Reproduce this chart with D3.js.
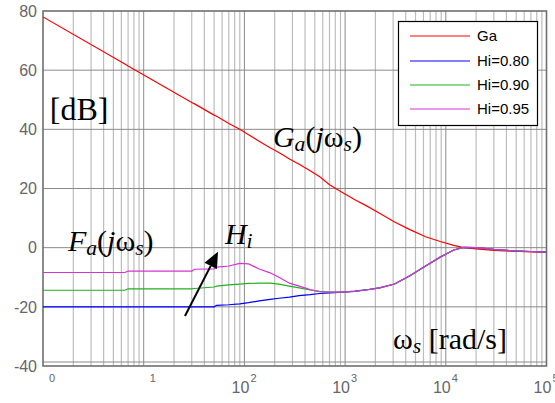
<!DOCTYPE html>
<style>
  body { margin: 0; background: #fff; }
  .tick-lab { font-family: "Liberation Sans", Arial, sans-serif; fill: #666; }
  .note { font-family: "Liberation Serif", "Times New Roman", serif; fill: #000; }
  .legend text { font-family: "Liberation Sans", Arial, sans-serif; font-size: 15px; fill: #000; }
</style>
<body>
<script src="https://d3js.org/d3.v7.min.js"></script>
<script>

// frequency grid, rad/s
var omega = [1, 6.5, 7, 30, 32, 50, 53, 70, 90, 110, 140, 180, 220, 280, 350, 450, 560,
             700, 950, 1250, 1600, 2200, 3100, 4400, 6300, 8800, 12000, 15000, 20000,
             30000, 47000, 70000, 100000];

// magnitudes in dB
var ga   = [78, 62.1, 61.4, 49.1, 48.6, 44.8, 44.4, 42.0, 40.0, 38.2, 36.0, 33.8, 32.2,
            30.0, 28.2, 26.0, 24.0, 21.3, 18.6, 16.2, 14.3, 11.6, 8.7, 6.1, 3.7, 2.1,
            0.8, 0.0, -0.4, -0.9, -1.2, -1.4, -1.5];
var hi80 = [-20, -20, -20, -20, -20, -20, -19.5, -19.3, -19.0, -18.6, -18.0, -17.5, -17.1,
            -16.7, -16.2, -15.9, -15.5, -15.3, -15.0, -14.7, -14.3, -13.6, -12.3, -9.5,
            -6.2, -3.2, -0.8, 0.1, 0.0, -0.6, -1.1, -1.3, -1.5];
var hi90 = [-14.4, -14.4, -13.9, -13.9, -13.8, -13.3, -13.0, -12.6, -12.3, -12.1, -12.0,
            -12.0, -12.3, -13.0, -13.6, -14.3, -14.8, -15.0, -15.0, -14.8, -14.3, -13.6,
            -12.3, -9.5, -6.2, -3.2, -0.8, 0.1, 0.0, -0.6, -1.1, -1.3, -1.5];
var hi95 = [-8.4, -8.4, -7.9, -7.9, -7.3, -7.2, -6.6, -6.2, -5.3, -5.5, -7.2, -8.5, -10.0,
            -12.0, -13.0, -14.2, -14.9, -15.0, -15.0, -14.8, -14.3, -13.6, -12.3, -9.5,
            -6.2, -3.2, -0.8, 0.1, 0.0, -0.6, -1.1, -1.3, -1.5];

var seriesNames = ["Ga", "Hi=0.80", "Hi=0.90", "Hi=0.95"];
var seriesColors = ["#ff0000", "#0000ff", "#22b022", "#d633d6"];
var yTicks = [-40, -20, 0, 20, 40, 60, 80];
var decades = [0, 1, 2, 3, 4, 5];

var width = 555, height = 403;
var margin = {top: 11, right: 8.5, bottom: 37, left: 43};

var x = d3.scaleLog()
    .domain([1, 1e5])
    .range([margin.left, width - margin.right]);

var y = d3.scaleLinear()
    .domain([-40, 80])
    .range([height - margin.bottom, margin.top]);

var svg = d3.select("body").append("svg")
    .attr("width", width)
    .attr("height", height);

svg.append("defs").append("clipPath").attr("id", "plot")
  .append("rect")
    .attr("x", x(1)).attr("y", y(80))
    .attr("width", x(1e5) - x(1)).attr("height", y(-40) - y(80));

// grid
var minor = [];
decades.slice(0, 5).forEach(function(k) {
  for (var m = 2; m <= 9; m++) minor.push(m * Math.pow(10, k));
});

svg.append("g").selectAll("line")
    .data(minor)
  .enter().append("line")
    .attr("x1", function(d) { return x(d); })
    .attr("x2", function(d) { return x(d); })
    .attr("y1", y(80)).attr("y2", y(-40))
    .attr("stroke", "#bdbdbd").attr("stroke-width", 1.2);

svg.append("g").selectAll("line")
    .data(decades.slice(1, 5))
  .enter().append("line")
    .attr("x1", function(d) { return x(Math.pow(10, d)); })
    .attr("x2", function(d) { return x(Math.pow(10, d)); })
    .attr("y1", y(80)).attr("y2", y(-40))
    .attr("stroke", "#8a8a8a").attr("stroke-width", 1);

svg.append("g").selectAll("line")
    .data(yTicks.slice(1, 6))
  .enter().append("line")
    .attr("x1", x(1)).attr("x2", x(1e5))
    .attr("y1", function(d) { return y(d); })
    .attr("y2", function(d) { return y(d); })
    .attr("stroke", "#8a8a8a").attr("stroke-width", 1);

// inner line just above the bottom edge
svg.append("line")
    .attr("x1", x(1)).attr("x2", x(1e5))
    .attr("y1", y(-40) - 4).attr("y2", y(-40) - 4)
    .attr("stroke", "#8a8a8a").attr("stroke-width", 1);

// frame
svg.append("rect")
    .attr("x", x(1)).attr("y", y(80))
    .attr("width", x(1e5) - x(1)).attr("height", y(-40) - y(80))
    .attr("fill", "none").attr("stroke", "#6e6e6e").attr("stroke-width", 1.6);

// y tick labels
svg.append("g").selectAll("text")
    .data(yTicks)
  .enter().append("text")
    .attr("class", "tick-lab")
    .attr("x", x(1) - 6)
    .attr("y", function(d) { return y(d); })
    .attr("dy", "0.36em")
    .attr("text-anchor", "end")
    .style("font-size", "16px")
    .text(function(d) { return d; });

// x tick labels (bases of 10^0 and 10^1 are missing in the original)
var xl = svg.append("g").selectAll("g")
    .data(decades)
  .enter().append("g");

xl.filter(function(d) { return d >= 2; }).append("text")
    .attr("class", "tick-lab")
    .attr("x", function(d) { return x(Math.pow(10, d)) - 4; })
    .attr("y", 393)
    .attr("text-anchor", "middle")
    .style("font-size", "16px")
    .text("10");

xl.append("text")
    .attr("class", "tick-lab")
    .attr("x", function(d) { return x(Math.pow(10, d)) + 6; })
    .attr("y", 382)
    .style("font-size", "11px")
    .text(function(d) { return d; });

// curves
var line = d3.line()
    .x(function(d) { return x(d[0]); })
    .y(function(d) { return y(d[1]); });

var series = [ga, hi80, hi90, hi95];

svg.append("g").attr("clip-path", "url(#plot)")
  .selectAll("path")
    .data(series)
  .enter().append("path")
    .attr("d", function(s) { return line(omega.map(function(w, i) { return [w, s[i]]; })); })
    .attr("fill", "none")
    .attr("stroke", function(s, i) { return seriesColors[i]; })
    .attr("stroke-width", 1.2);

// legend
var lg = svg.append("g").attr("class", "legend");
lg.append("rect")
    .attr("x", 398.5).attr("y", 21.5)
    .attr("width", 139).attr("height", 104)
    .attr("fill", "#fff").attr("stroke", "#000").attr("stroke-width", 1.2);

var rowY = [36, 61, 85, 109];
var row = lg.selectAll("g.row")
    .data(seriesNames)
  .enter().append("g").attr("class", "row");
row.append("line")
    .attr("x1", 410).attr("x2", 470)
    .attr("y1", function(d, i) { return rowY[i]; })
    .attr("y2", function(d, i) { return rowY[i]; })
    .attr("stroke", function(d, i) { return seriesColors[i]; })
    .attr("stroke-width", 1.2);
row.append("text")
    .attr("x", 477)
    .attr("y", function(d, i) { return rowY[i]; })
    .attr("dy", "0.36em")
    .text(function(d) { return d; });

// annotations, placed in data units
function note(w, db, size, parts) {
  var t = svg.append("text")
      .attr("class", "note")
      .attr("x", x(w)).attr("y", y(db))
      .style("font-size", size + "px");
  parts.forEach(function(p) {
    var ts = t.append("tspan").text(p.t);
    if (p.i) ts.style("font-style", "italic");
    if (p.sub) ts.style("font-size", (size * 0.72) + "px").attr("dy", 4);
    if (p.up) ts.attr("dy", -4);
  });
}

note(1.17, 43.3, 32, [{t: "[dB]"}]);
note(192, 34.0, 30, [{t: "G", i: 1}, {t: "a", i: 1, sub: 1}, {t: "(", up: 1}, {t: "j", i: 1}, {t: "ω"}, {t: "s", i: 1, sub: 1}, {t: ")", up: 1}]);
note(1.77, -1.0, 30, [{t: "F", i: 1}, {t: "a", i: 1, sub: 1}, {t: "(", up: 1}, {t: "j", i: 1}, {t: "ω"}, {t: "s", i: 1, sub: 1}, {t: ")", up: 1}]);
note(64, 1.25, 30, [{t: "H", i: 1}, {t: "i", i: 1, sub: 1}]);
note(2990, -34.2, 30, [{t: "ω"}, {t: "s", i: 1, sub: 1}, {t: " [rad/s]", up: 1}]);

// arrow pointing to increasing Hi
var arrowFrom = [25.7, -23.1], arrowTo = [54.7, -1.35];
var ax0 = x(arrowFrom[0]), ay0 = y(arrowFrom[1]),
    ax1 = x(arrowTo[0]), ay1 = y(arrowTo[1]);
var len = Math.hypot(ax1 - ax0, ay1 - ay0),
    ux = (ax1 - ax0) / len, uy = (ay1 - ay0) / len,
    hl = 16, hw = 7;
svg.append("line")
    .attr("x1", ax0).attr("y1", ay0)
    .attr("x2", ax1 - ux * hl).attr("y2", ay1 - uy * hl)
    .attr("stroke", "#000").attr("stroke-width", 2);
svg.append("path")
    .attr("d", "M" + ax1 + "," + ay1 +
      "L" + (ax1 - ux * hl - uy * hw) + "," + (ay1 - uy * hl + ux * hw) +
      "L" + (ax1 - ux * hl + uy * hw) + "," + (ay1 - uy * hl - ux * hw) + "Z")
    .attr("fill", "#000");

</script>
</body>
